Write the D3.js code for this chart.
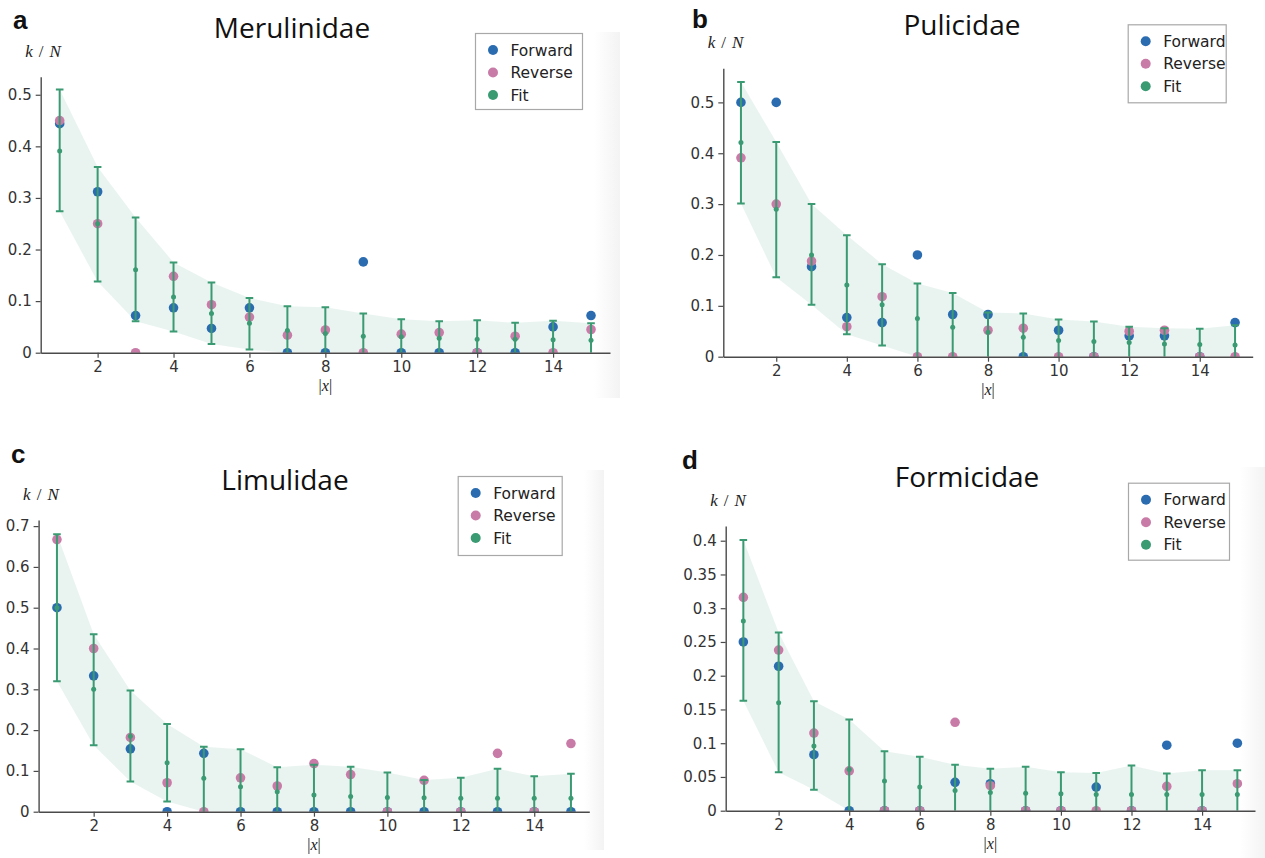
<!DOCTYPE html>
<html>
<head>
<meta charset="utf-8">
<script src="https://cdn.jsdelivr.net/npm/d3@7"></script>
<style>
  html, body { margin: 0; padding: 0; background: #fff; }
  svg { display: block; }
</style>
</head>
<body>
<svg id="fig" width="1265" height="858"></svg>
<script>
// Distance |x| between positions, shared by all four families
const distances = [1, 2, 3, 4, 5, 6, 7, 8, 9, 10, 11, 12, 13, 14, 15];
const xTickValues = [2, 4, 6, 8, 10, 12, 14];

// Merulinidae
const merulinidaeForward = [0.444, 0.312, 0.072, 0.087, 0.047, 0.087, 0, 0, 0.176, 0, 0, 0, 0, 0.050, 0.072];
const merulinidaeReverse = [0.450, 0.250, 0, 0.148, 0.093, 0.069, 0.034, 0.044, 0, 0.036, 0.039, 0, 0.032, 0, 0.045];
const merulinidaeFit     = [0.391, 0.250, 0.161, 0.108, 0.076, 0.057, 0.043, 0.037, 0.032, 0.031, 0.028, 0.026, 0.026, 0.025, 0.024];
const merulinidaeUpper   = [0.510, 0.360, 0.262, 0.175, 0.136, 0.106, 0.090, 0.088, 0.076, 0.065, 0.061, 0.063, 0.058, 0.062, 0.057];
const merulinidaeLower   = [0.274, 0.138, 0.061, 0.041, 0.017, 0.006, 0, 0, 0, 0, 0, 0, 0, 0, 0];
const merulinidaeYTicks  = [0, 0.1, 0.2, 0.3, 0.4, 0.5];

// Pulicidae
const pulicidaeForward = [0.5, 0.5, 0.177, 0.077, 0.067, 0.2, 0.083, 0.083, 0, 0.052, 0, 0.041, 0.041, 0, 0.067];
const pulicidaeReverse = [0.391, 0.300, 0.188, 0.059, 0.118, 0, 0, 0.052, 0.056, 0, 0, 0.050, 0.052, 0, 0];
const pulicidaeFit     = [0.421, 0.290, 0.200, 0.141, 0.102, 0.075, 0.058, 0.048, 0.038, 0.032, 0.030, 0.028, 0.025, 0.024, 0.023];
const pulicidaeUpper   = [0.540, 0.422, 0.300, 0.239, 0.182, 0.144, 0.125, 0.087, 0.085, 0.073, 0.069, 0.059, 0.056, 0.055, 0.062];
const pulicidaeLower   = [0.301, 0.156, 0.102, 0.044, 0.022, 0, 0, 0, 0, 0, 0, 0, 0, 0, 0];
const pulicidaeYTicks  = [0, 0.1, 0.2, 0.3, 0.4, 0.5];

// Limulidae
const limulidaeForward = [0.5, 0.333, 0.154, 0, 0.143, 0, 0, 0, 0, 0, 0, 0, 0, 0, 0];
const limulidaeReverse = [0.667, 0.400, 0.182, 0.071, 0, 0.083, 0.063, 0.118, 0.091, 0, 0.077, 0, 0.143, 0, 0.167];
const limulidaeFit     = [0.500, 0.300, 0.185, 0.120, 0.082, 0.061, 0.049, 0.041, 0.037, 0.035, 0.034, 0.033, 0.033, 0.033, 0.033];
const limulidaeUpper   = [0.680, 0.435, 0.297, 0.215, 0.159, 0.153, 0.109, 0.115, 0.110, 0.096, 0.078, 0.083, 0.105, 0.087, 0.093];
const limulidaeLower   = [0.320, 0.163, 0.074, 0.025, 0, 0, 0, 0, 0, 0, 0, 0, 0, 0, 0];
const limulidaeYTicks  = [0, 0.1, 0.2, 0.3, 0.4, 0.5, 0.6, 0.7];

// Formicidae
const formicidaeForward = [0.25, 0.214, 0.083, 0, 0, 0, 0.042, 0.040, 0, 0, 0.035, 0, 0.097, 0, 0.100];
const formicidaeReverse = [0.316, 0.238, 0.115, 0.059, 0, 0, 0.131, 0.037, 0, 0, 0, 0, 0.036, 0, 0.040];
const formicidaeFit     = [0.281, 0.160, 0.096, 0.061, 0.044, 0.035, 0.030, 0.027, 0.026, 0.025, 0.024, 0.024, 0.024, 0.024, 0.024];
const formicidaeUpper   = [0.401, 0.264, 0.162, 0.135, 0.088, 0.080, 0.068, 0.062, 0.065, 0.057, 0.056, 0.067, 0.055, 0.060, 0.060];
const formicidaeLower   = [0.163, 0.057, 0.031, 0, 0, 0, 0, 0, 0, 0, 0, 0, 0, 0, 0];
const formicidaeYTicks  = [0, 0.05, 0.1, 0.15, 0.2, 0.25, 0.3, 0.35, 0.4];

const seriesNames = ["Forward", "Reverse", "Fit"];
const colors = { Forward: "#2b6cb0", Reverse: "#c97ba8", Fit: "#3a9a72" };

const panels = [
  { letter: "a", title: "Merulinidae", forward: merulinidaeForward, reverse: merulinidaeReverse,
    fit: merulinidaeFit, upper: merulinidaeUpper, lower: merulinidaeLower, yTicks: merulinidaeYTicks, yMax: 0.535,
    box: { left: 40.7, right: 610, top: 76.7, bottom: 352.7 },
    letterPos: [13, 29], titlePos: [292, 38], legend: { x: 475, y: 33, w: 107, h: 76 },
    strip: { x: 594, y: 32, w: 26, h: 366 } },
  { letter: "b", title: "Pulicidae", forward: pulicidaeForward, reverse: pulicidaeReverse,
    fit: pulicidaeFit, upper: pulicidaeUpper, lower: pulicidaeLower, yTicks: pulicidaeYTicks, yMax: 0.567,
    box: { left: 723.3, right: 1252.7, top: 68.3, bottom: 356.7 },
    letterPos: [692, 28], titlePos: [962, 35], legend: { x: 1127.7, y: 24.3, w: 98, h: 78 },
    strip: null },
  { letter: "c", title: "Limulidae", forward: limulidaeForward, reverse: limulidaeReverse,
    fit: limulidaeFit, upper: limulidaeUpper, lower: limulidaeLower, yTicks: limulidaeYTicks, yMax: 0.715,
    box: { left: 38.6, right: 589.3, top: 520, bottom: 811.7 },
    letterPos: [11, 463], titlePos: [285, 490], legend: { x: 457.7, y: 476, w: 104, h: 79 },
    strip: { x: 584, y: 470, w: 20, h: 380 } },
  { letter: "d", title: "Formicidae", forward: formicidaeForward, reverse: formicidaeReverse,
    fit: formicidaeFit, upper: formicidaeUpper, lower: formicidaeLower, yTicks: formicidaeYTicks, yMax: 0.4218,
    box: { left: 725.7, right: 1255, top: 526, bottom: 810.7 },
    letterPos: [682, 469], titlePos: [967, 487], legend: { x: 1128, y: 482.7, w: 101, h: 77 },
    strip: { x: 1240, y: 467, w: 25, h: 391 } }
];

const svg = d3.select("#fig");
const defs = svg.append("defs");

// soft grey edge at the right of some panels
const grad = defs.append("linearGradient").attr("id", "edgeShade")
  .attr("x1", 0).attr("x2", 1).attr("y1", 0).attr("y2", 0);
grad.append("stop").attr("offset", 0).attr("stop-color", "#f4f4f4").attr("stop-opacity", 0);
grad.append("stop").attr("offset", 1).attr("stop-color", "#f3f3f3").attr("stop-opacity", 1);

panels.forEach(p => {
  if (p.strip) {
    svg.append("rect").attr("x", p.strip.x).attr("y", p.strip.y)
      .attr("width", p.strip.w).attr("height", p.strip.h)
      .attr("fill", "url(#edgeShade)");
  }
});

panels.forEach((p, pi) => {
  const b = p.box;
  const x = d3.scaleLinear().domain([0.5, 15.5]).range([b.left, b.right]);
  const y = d3.scaleLinear().domain([0, p.yMax]).range([b.bottom, b.top]);

  const g = svg.append("g");
  const clipId = "clip" + pi;
  defs.append("clipPath").attr("id", clipId).append("rect")
    .attr("x", b.left).attr("y", b.top).attr("width", b.right - b.left).attr("height", b.bottom - b.top);

  const rows = distances.map((d, i) => ({
    d, forward: p.forward[i], reverse: p.reverse[i], fit: p.fit[i], upper: p.upper[i], lower: p.lower[i]
  }));

  const plot = g.append("g").attr("clip-path", `url(#${clipId})`);

  // confidence band of the fit
  plot.append("path").datum(rows)
    .attr("d", d3.area().x(r => x(r.d)).y0(r => y(r.lower)).y1(r => y(r.upper)))
    .attr("fill", colors.Fit).attr("fill-opacity", 0.11).attr("stroke", "none");

  // observed points
  plot.selectAll("circle.fwd").data(rows).join("circle").attr("class", "fwd")
    .attr("cx", r => x(r.d)).attr("cy", r => y(r.forward)).attr("r", 4.8)
    .attr("fill", colors.Forward);
  plot.selectAll("circle.rev").data(rows).join("circle").attr("class", "rev")
    .attr("cx", r => x(r.d)).attr("cy", r => y(r.reverse)).attr("r", 4.8)
    .attr("fill", colors.Reverse);

  // fit with error bars
  const cap = 3.8;
  plot.selectAll("line.err").data(rows).join("line").attr("class", "err")
    .attr("x1", r => x(r.d)).attr("x2", r => x(r.d))
    .attr("y1", r => y(r.lower)).attr("y2", r => y(r.upper))
    .attr("stroke", colors.Fit).attr("stroke-width", 2);
  plot.selectAll("line.capTop").data(rows).join("line").attr("class", "capTop")
    .attr("x1", r => x(r.d) - cap).attr("x2", r => x(r.d) + cap)
    .attr("y1", r => y(r.upper)).attr("y2", r => y(r.upper))
    .attr("stroke", colors.Fit).attr("stroke-width", 2);
  plot.selectAll("line.capBot").data(rows.filter(r => r.lower > 0)).join("line").attr("class", "capBot")
    .attr("x1", r => x(r.d) - cap).attr("x2", r => x(r.d) + cap)
    .attr("y1", r => y(r.lower)).attr("y2", r => y(r.lower))
    .attr("stroke", colors.Fit).attr("stroke-width", 2);
  plot.selectAll("circle.fit").data(rows).join("circle").attr("class", "fit")
    .attr("cx", r => x(r.d)).attr("cy", r => y(r.fit)).attr("r", 2.5)
    .attr("fill", colors.Fit);

  // axes
  const xAxis = g.append("g").attr("transform", `translate(0,${b.bottom})`)
    .call(d3.axisBottom(x).tickValues(xTickValues).tickSize(5).tickSizeOuter(0).tickPadding(4));
  const yAxis = g.append("g").attr("transform", `translate(${b.left},0)`)
    .call(d3.axisLeft(y).tickValues(p.yTicks).tickSize(5).tickSizeOuter(0).tickPadding(4)
      .tickFormat(v => v === 0 ? "0" : String(v)));
  [xAxis, yAxis].forEach(a => {
    a.select(".domain").attr("stroke", "#4a4a4a").attr("stroke-width", 1.4);
    a.selectAll(".tick line").attr("stroke", "#4a4a4a").attr("stroke-width", 1.2);
    a.selectAll(".tick text").attr("fill", "#333").style("font-family", "'DejaVu Sans', Verdana, sans-serif")
      .style("font-size", "15px");
  });

  // axis labels
  const yl = g.append("text").attr("x", b.left - 15.5).attr("y", b.top - 20)
    .style("font-family", "'Liberation Serif', 'Times New Roman', serif").style("font-size", "17px").attr("fill", "#222");
  yl.append("tspan").style("font-style", "italic").text("k");
  yl.append("tspan").attr("dx", 6).text("/");
  yl.append("tspan").attr("dx", 6).style("font-style", "italic").text("N");

  const xl = g.append("text").attr("x", (b.left + b.right) / 2).attr("y", b.bottom + 38)
    .attr("text-anchor", "middle")
    .style("font-family", "'Liberation Serif', 'Times New Roman', serif").style("font-size", "16px").attr("fill", "#222");
  xl.append("tspan").text("|");
  xl.append("tspan").style("font-style", "italic").text("x");
  xl.append("tspan").text("|");

  // title and panel letter
  g.append("text").attr("x", p.titlePos[0]).attr("y", p.titlePos[1]).attr("text-anchor", "middle")
    .style("font-family", "'Open Sans', sans-serif").style("font-size", "28px").attr("fill", "#111")
    .text(p.title);
  g.append("text").attr("x", p.letterPos[0]).attr("y", p.letterPos[1])
    .style("font-family", "'Liberation Sans', Arial, sans-serif").style("font-weight", "bold")
    .style("font-size", "26px").attr("fill", "#111").text(p.letter);

  // legend
  const L = p.legend;
  const lg = g.append("g").attr("transform", `translate(${L.x},${L.y})`);
  lg.append("rect").attr("x", 0.5).attr("y", 0.5).attr("width", L.w).attr("height", L.h)
    .attr("fill", "#fff").attr("stroke", "#a8a8a8").attr("stroke-width", 1.2);
  seriesNames.forEach((name, i) => {
    const cy = 17 + i * 22.5;
    lg.append("circle").attr("cx", 18).attr("cy", cy).attr("r", 5).attr("fill", colors[name]);
    lg.append("text").attr("x", 35.5).attr("y", cy).attr("dy", "0.36em")
      .style("font-family", "'DejaVu Sans', Verdana, sans-serif").style("font-size", "15.5px")
      .attr("fill", "#222").text(name);
  });
});
</script>
</body>
</html>
